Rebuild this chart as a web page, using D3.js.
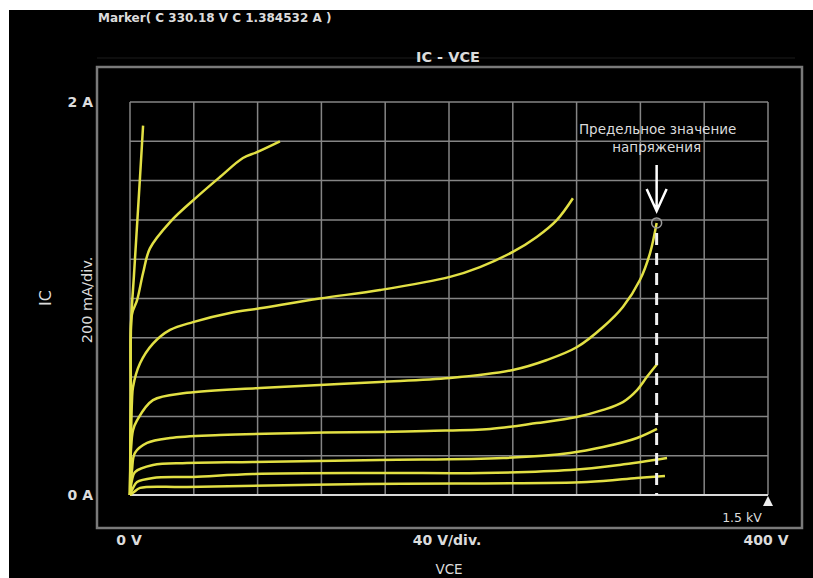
<!DOCTYPE html>
<html>
<head>
<meta charset="utf-8">
<script src="https://cdn.jsdelivr.net/npm/d3@7"></script>
<style>
  body { margin: 0; background: #fff; }
  svg text { font-family: "DejaVu Sans", Verdana, sans-serif; fill: #dcdcdc; }
</style>
</head>
<body>
<div id="chart"></div>
<script>
// IC - VCE curves: [VCE volts, IC amps]
var c1 = [[0,0],[0.4,0.5],[0.7,0.88],[2.5,1.12],[4.4,1.37],[6.3,1.62],[8.2,1.88]];
var c2 = [[0,0],[0.6,0.48],[1.25,0.92],[4.4,0.99],[8.2,1.13],[12.5,1.255],[25.1,1.389],[42,1.517],[56.4,1.618],[70.8,1.715],[79.6,1.745],[94,1.8]];
var c3 = [[0,0],[0.6,0.28],[1.25,0.48],[1.9,0.55],[6.3,0.67],[14.4,0.77],[25.1,0.84],[39.5,0.88],[62.7,0.926],[81.5,0.95],[119,1.0],[156.7,1.043],[200.6,1.11],[219.4,1.16],[240,1.237],[255,1.313],[267.7,1.4],[277.7,1.51]];
var c4 = [[0,0],[0.6,0.23],[1.9,0.33],[4.4,0.38],[14.4,0.483],[35.7,0.52],[81.5,0.545],[119,0.56],[156.7,0.575],[200.6,0.595],[240,0.636],[261.4,0.687],[280.3,0.753],[296.6,0.855],[309,0.957],[319.7,1.094],[326,1.23],[330.18,1.3845]];
var c5 = [[0,0],[1.25,0.127],[3.1,0.214],[10.7,0.265],[25.1,0.29],[56.4,0.305],[108.5,0.316],[156.7,0.32],[186,0.326],[225.7,0.336],[255,0.366],[280,0.397],[296.6,0.433],[309,0.473],[317.9,0.534],[324,0.6],[330.4,0.665]];
var c6 = [[0,0],[1.25,0.076],[3.1,0.117],[14.4,0.153],[35.7,0.163],[77,0.168],[156.7,0.178],[233.9,0.188],[275.9,0.214],[296.6,0.244],[317.9,0.29],[330.4,0.336]];
var c7 = [[0,0],[1.9,0.036],[4.4,0.066],[14.4,0.087],[39.5,0.092],[77,0.107],[156.7,0.112],[221,0.112],[275.9,0.127],[307,0.153],[336.7,0.188]];
var c8 = [[0,0],[2.5,0.015],[6.3,0.036],[35.7,0.041],[148.6,0.056],[286.5,0.066],[317.9,0.087],[335.4,0.097]];
var curves = [c1, c2, c3, c4, c5, c6, c7, c8];

var marker = { v: 330.18, i: 1.384532 };
var xGrid = d3.range(0, 401, 40);      // 40 V/div.
var yGrid = d3.range(0, 2.001, 0.2);   // 200 mA/div.
var xLabels = [[0, "0 V"], [200, "40 V/div."], [400, "400 V"]];
var yLabels = [[0, "0 A"], [2, "2 A"]];

var W = 813, H = 578;
var svg = d3.select("#chart").append("svg").attr("width", W).attr("height", H);

// black screen with the white strip at top/left
svg.append("rect").attr("x", 0).attr("y", 0).attr("width", W).attr("height", H).attr("fill", "#fff");
svg.append("rect").attr("x", 9).attr("y", 10).attr("width", W - 9).attr("height", H - 10).attr("fill", "#000");

var x = d3.scaleLinear().domain([0, 400]).range([130, 768]);
var y = d3.scaleLinear().domain([0, 2]).range([495, 102]);

// outer frame
svg.append("line").attr("x1", 97).attr("x2", 795).attr("y1", 58).attr("y2", 58)
    .attr("stroke", "#1c1c1c").attr("stroke-width", 1);
svg.append("rect").attr("x", 97).attr("y", 67).attr("width", 705).attr("height", 461)
    .attr("fill", "none").attr("stroke", "#7a7a7a").attr("stroke-width", 2.5);

// grid
var grid = svg.append("g").attr("stroke", "#858585").attr("stroke-width", 1.5);
grid.selectAll(".gx").data(xGrid).enter().append("line")
    .attr("x1", function(d) { return x(d); }).attr("x2", function(d) { return x(d); })
    .attr("y1", y(2)).attr("y2", y(0));
grid.selectAll(".gy").data(yGrid).enter().append("line")
    .attr("x1", x(0)).attr("x2", x(400))
    .attr("y1", function(d) { return y(d); }).attr("y2", function(d) { return y(d); });

// zero current axis, brighter
svg.append("line").attr("x1", x(0)).attr("x2", x(400)).attr("y1", y(0)).attr("y2", y(0))
    .attr("stroke", "#d8d8d8").attr("stroke-width", 2);
svg.append("path")
    .attr("d", "M" + x(400) + "," + (y(0) + 1) + " l-5,10 h10 z")
    .attr("fill", "#eee");
svg.append("text").attr("x", x(400) - 26).attr("y", 522).attr("text-anchor", "middle")
    .attr("font-size", 12.5).text("1.5 kV");

// curves
var line = d3.line()
    .x(function(d) { return x(d[0]); })
    .y(function(d) { return y(d[1]); })
    .curve(d3.curveCatmullRom.alpha(0.5));

svg.append("g").selectAll("path").data(curves).enter().append("path")
    .attr("d", line)
    .attr("fill", "none")
    .attr("stroke", "#e2e044")
    .attr("stroke-width", 2.5)
    .attr("stroke-linejoin", "round");

// voltage limit marker
svg.append("line")
    .attr("x1", x(marker.v)).attr("x2", x(marker.v))
    .attr("y1", y(marker.i) + 10).attr("y2", y(0))
    .attr("stroke", "#f0f0f0").attr("stroke-width", 3)
    .attr("stroke-dasharray", "12,8");
svg.append("circle").attr("cx", x(marker.v)).attr("cy", y(marker.i)).attr("r", 5)
    .attr("fill", "none").attr("stroke", "#999").attr("stroke-width", 1.5);

var ax = x(marker.v), tip = y(marker.i) - 12;
svg.append("path")
    .attr("d", "M" + ax + "," + (tip - 46) + " V" + tip + " M" + (ax - 10) + "," + (tip - 22) + " L" + ax + "," + tip + " L" + (ax + 10) + "," + (tip - 22))
    .attr("fill", "none").attr("stroke", "#fff").attr("stroke-width", 2.5);

svg.append("text").attr("x", ax + 1).attr("y", 134).attr("text-anchor", "middle")
    .attr("font-size", 13.5).attr("fill", "#e6e6e6").text("Предельное значение");
svg.append("text").attr("x", ax).attr("y", 152).attr("text-anchor", "middle")
    .attr("font-size", 13.5).attr("fill", "#e6e6e6").text("напряжения");

// texts
svg.append("text").attr("x", 98).attr("y", 22).attr("font-size", 12).attr("font-weight", "bold")
    .text("Marker( C " + marker.v.toFixed(2) + " V C " + marker.i.toFixed(6) + " A )");
svg.append("text").attr("x", 448).attr("y", 62).attr("text-anchor", "middle")
    .attr("font-size", 14.5).attr("font-weight", "bold").text("IC - VCE");

svg.selectAll(".yl").data(yLabels).enter().append("text")
    .attr("x", 93).attr("y", function(d) { return y(d[0]) + 5; })
    .attr("text-anchor", "end").attr("font-size", 14).attr("font-weight", "bold")
    .text(function(d) { return d[1]; });

svg.selectAll(".xl").data(xLabels).enter().append("text")
    .attr("x", function(d) { return d[0] === 0 ? x(d[0]) - 1 : (d[0] === 400 ? x(d[0]) - 2 : 447); })
    .attr("y", 545)
    .attr("text-anchor", "middle").attr("font-size", 14).attr("font-weight", "bold")
    .text(function(d) { return d[1]; });

svg.append("text").attr("transform", "translate(92,300) rotate(-90)").attr("text-anchor", "middle")
    .attr("font-size", 14.5).text("200 mA/div.");
svg.append("text").attr("transform", "translate(51,298) rotate(-90)").attr("text-anchor", "middle")
    .attr("font-size", 16).text("IC");
svg.append("text").attr("x", 449).attr("y", 574).attr("text-anchor", "middle")
    .attr("font-size", 13.5).text("VCE");
</script>
</body>
</html>
